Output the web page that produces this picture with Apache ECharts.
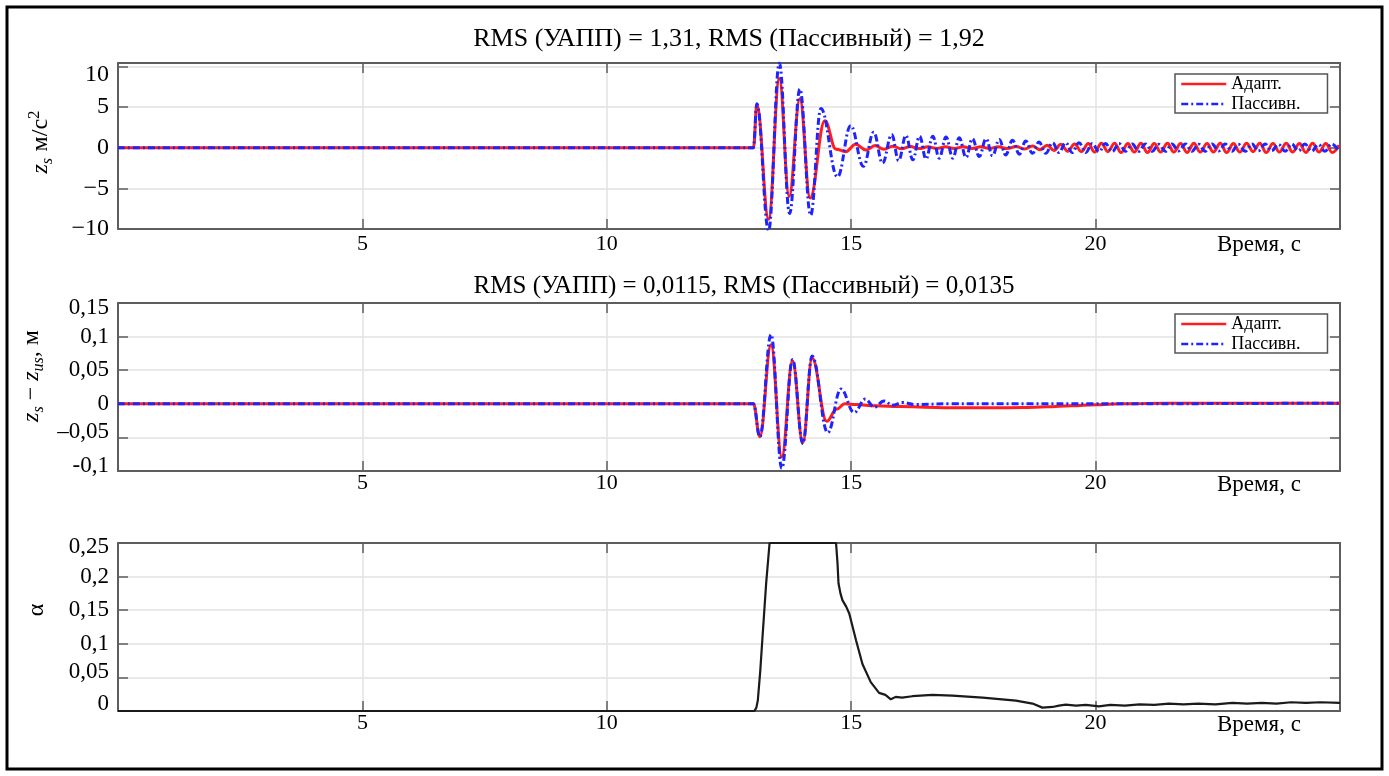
<!DOCTYPE html>
<html><head><meta charset="utf-8">
<script src="https://cdn.jsdelivr.net/npm/echarts@6/dist/echarts.min.js"></script>
<style>html,body{margin:0;padding:0;background:#fff}#c{width:1389px;height:776px}</style>
</head><body><div id="c"></div>
<script>
// ---------- texts ----------
const titleZs = 'RMS (УАПП) = 1,31, RMS (Пассивный) = 1,92';
const titleDef = 'RMS (УАПП) = 0,0115, RMS (Пассивный) = 0,0135';
const seriesNames = ['Адапт.', 'Пассивн.'];
const timeAxisName = 'Время, с';
// ---------- tick labels ----------
const timeTicks = [5, 10, 15, 20];
const zsTicks = [-10, -5, 0, 5, 10];
const zsLabels = ['−10', '−5', '0', '5', '10'];
const defTicks = [-0.1, -0.05, 0, 0.05, 0.1, 0.15];
const defLabels = ['-0,1', '–0,05', '0', '0,05', '0,1', '0,15'];
const alphaTicks = [0, 0.05, 0.1, 0.15, 0.2, 0.25];
const alphaLabels = ['0', '0,05', '0,1', '0,15', '0,2', '0,25'];
// ---------- series: [time s, value] ----------
const zsAdaptive = [[0,0],[13.0,0],[13.07,5.3],[13.31,-8.8],[13.53,8.5],[13.73,-6.0],[13.95,6.0],[14.16,-6.2],[14.46,3.3],[14.69,-0.2],[14.89,-0.5],[15.09,0.4],[15.30,-0.3],[15.49,0.25],[15.67,-0.2],[15.85,0.18],[16.03,-0.15],[16.21,0.13],[16.39,-0.12],[16.57,0.1],[16.75,-0.1],[16.93,0.1],[17.11,-0.1],[17.29,0.1],[17.47,-0.1],[17.65,0.1],[17.83,-0.1],[18.01,0.1],[18.19,-0.12],[18.37,0.14],[18.55,-0.17],[18.71,0.2],[18.86,-0.25],[19.01,0.3],[19.15,-0.35],[19.29,0.4],[19.43,-0.45],[19.57,0.45],[19.71,-0.5],[19.85,0.5],[19.98,-0.55],[20.12,0.55],[20.25,-0.5],[20.39,0.55],[20.52,-0.6],[20.66,0.5],[20.79,-0.55],[20.93,0.55],[21.06,-0.6],[21.20,0.5],[21.33,-0.55],[21.47,0.55],[21.60,-0.55],[21.74,0.5],[21.87,-0.6],[22.01,0.55],[22.14,-0.55],[22.28,0.5],[22.41,-0.55],[22.55,0.55],[22.68,-0.6],[22.82,0.5],[22.95,-0.55],[23.09,0.55],[23.22,-0.5],[23.36,0.55],[23.49,-0.6],[23.63,0.5],[23.76,-0.55],[23.90,0.55],[24.03,-0.55],[24.17,0.5],[24.30,-0.6],[24.44,0.55],[24.57,-0.55],[24.71,0.5],[24.84,-0.6],[24.98,0.3]];
const zsPassive = [[0,0],[13.0,0],[13.07,5.4],[13.31,-10.2],[13.53,10.4],[13.74,-8.1],[13.95,7.2],[14.17,-8.3],[14.38,4.8],[14.72,-3.6],[14.99,2.7],[15.25,-2.3],[15.46,1.9],[15.64,-1.9],[15.83,1.6],[15.97,-1.6],[16.12,1.5],[16.26,-1.5],[16.40,1.4],[16.53,-1.4],[16.67,1.4],[16.80,-1.3],[16.94,1.3],[17.08,-1.3],[17.21,1.2],[17.35,-1.2],[17.48,1.1],[17.62,-1.1],[17.76,1.1],[17.89,-1.0],[18.03,1.0],[18.16,-0.9],[18.30,0.9],[18.44,-0.8],[18.57,0.8],[18.71,-0.7],[18.84,0.7],[18.98,-0.7],[19.12,0.6],[19.25,-0.6],[19.39,0.6],[19.52,-0.6],[19.66,0.6],[19.80,-0.6],[19.93,0.5],[20.07,-0.5],[20.20,0.5],[20.34,-0.5],[20.48,0.5],[20.61,-0.45],[20.75,0.45],[20.88,-0.45],[21.02,0.45],[21.16,-0.45],[21.29,0.4],[21.43,-0.45],[21.56,0.45],[21.70,-0.4],[21.84,0.45],[21.97,-0.45],[22.11,0.4],[22.24,-0.45],[22.38,0.45],[22.52,-0.4],[22.65,0.45],[22.79,-0.45],[22.92,0.4],[23.06,-0.45],[23.20,0.45],[23.33,-0.4],[23.47,0.45],[23.60,-0.4],[23.74,0.4],[23.88,-0.45],[24.01,0.45],[24.15,-0.4],[24.28,0.45],[24.42,-0.45],[24.56,0.4],[24.69,-0.45],[24.83,0.45],[24.96,-0.3]];
const defAdaptive = [[0,0],[13.0,0],[13.13,-0.049],[13.36,0.088],[13.58,-0.079],[13.80,0.064],[14.01,-0.058],[14.20,0.068],[14.50,-0.026],[14.70,-0.008],[14.87,0.0],[15.1,-0.001],[15.5,-0.003],[16.0,-0.004],[16.5,-0.005],[17.0,-0.006],[17.5,-0.006],[18.0,-0.006],[18.5,-0.0055],[19.0,-0.0045],[19.5,-0.003],[20.0,-0.0015],[20.5,0],[21.0,0.0005],[22.0,0.001],[25,0.001]];
const defPassive = [[0,0],[13.0,0],[13.13,-0.049],[13.36,0.103],[13.58,-0.096],[13.80,0.066],[14.01,-0.059],[14.20,0.071],[14.52,-0.043],[14.79,0.022],[15.06,-0.013],[15.29,0.007],[15.47,-0.005],[15.67,0.004],[15.85,-0.002],[16.05,0.002],[16.3,-0.001],[17.0,0],[20.0,0],[25,0.001]];
const alphaGain = [[0,0],[13.02,0],[13.06,0.005],[13.09,0.016],[13.14,0.06],[13.19,0.115],[13.26,0.19],[13.33,0.25],[14.69,0.25],[14.72,0.22],[14.74,0.19],[14.78,0.175],[14.82,0.165],[14.9,0.155],[14.96,0.145],[15.03,0.125],[15.10,0.105],[15.23,0.07],[15.40,0.043],[15.57,0.027],[15.70,0.024],[15.81,0.0174],[15.91,0.021],[16.04,0.020],[16.25,0.022],[16.66,0.024],[17.07,0.023],[17.69,0.020],[18.37,0.0155],[18.71,0.011],[18.91,0.005],[19.12,0.006],[19.25,0.008],[19.39,0.0095],[19.6,0.008],[19.8,0.009],[20.07,0.007],[20.3,0.009],[20.6,0.008],[20.9,0.01],[21.2,0.009],[21.5,0.011],[21.8,0.01],[22.1,0.011],[22.45,0.01],[22.8,0.012],[23.1,0.011],[23.4,0.012],[23.7,0.011],[24.0,0.013],[24.3,0.012],[24.6,0.013],[25,0.012]];

// ---------- layout / style ----------
const FONT = 'Liberation Serif';
const frameColor = '#5e5e5e';
const gridColor = '#e2e2e2';
const RED = '#ff1e1e', BLUE = '#1f24ff';
const grids = [
  {left: 118, right: 49, top: 63, height: 166},
  {left: 118, right: 49, top: 303, height: 168},
  {left: 118, right: 49, top: 543, height: 168}
];
// per-label vertical nudges (px, + = down) to mimic the original label placement
const labelShift = [
  {'10': 8},
  {'0,15': 5, '–0,05': -5, '-0,1': -5},
  {'0': -7, '0,05': -5, '0,25': 4}
];
function lookup(ticks, labels, shifts) {
  return function (v) {
    const i = ticks.findIndex(t => Math.abs(t - v) < 1e-9);
    if (i < 0) return '';
    const s = shifts[labels[i]] || 0;
    if (s > 0) return '{dn' + s + '|' + labels[i] + '}';
    if (s < 0) return '{up' + (-s) + '|' + labels[i] + '}';
    return labels[i];
  };
}
function shiftRich(size) {
  const r = {};
  for (let k = 1; k <= 10; k++) {
    r['dn' + k] = {fontFamily: FONT, fontSize: size, color: '#000', padding: [2 * k, 0, 0, 0]};
    r['up' + k] = {fontFamily: FONT, fontSize: size, color: '#000', padding: [0, 0, 2 * k, 0]};
  }
  return r;
}
const yCfg = [
  {min: -10, max: 10.4, interval: 5, ticks: zsTicks, labels: zsLabels, size: 24,
   name: '{i|z}{sub|s}  {n|м/с}{sup|2}', gap: 62, pad: [0,0,0,8]},
  {min: -0.1, max: 0.15, interval: 0.05, ticks: defTicks, labels: defLabels, size: 23,
   name: '{i|z}{sub|s}{n| − }{i|z}{sub|us}{n|, м}', gap: 66, pad: [0,0,0,22]},
  {min: 0, max: 0.25, interval: 0.05, ticks: alphaTicks, labels: alphaLabels, size: 23,
   name: '{n|α}', gap: 66, pad: [0,0,0,34]}
];
const nameRich = {
  i: {fontFamily: FONT, fontStyle: 'italic', fontSize: 24, lineHeight: 30, color: '#000'},
  n: {fontFamily: FONT, fontSize: 24, lineHeight: 30, color: '#000'},
  sub: {fontFamily: FONT, fontStyle: 'italic', fontSize: 16, verticalAlign: 'bottom', lineHeight: 30, color: '#000'},
  sup: {fontFamily: FONT, fontSize: 17, verticalAlign: 'top', lineHeight: 30, color: '#000'}
};
const xAxes = [], yAxes = [];
grids.forEach((g, gi) => {
  const c = yCfg[gi];
  xAxes.push({
    gridIndex: gi, type: 'value', position: 'bottom', min: 0, max: 25, interval: 5,
    axisLine: {show: true, onZero: false, lineStyle: {color: frameColor, width: 2}},
    axisTick: {show: true, inside: true, length: 10, lineStyle: {color: frameColor, width: 1.5}},
    splitLine: {show: true, lineStyle: {color: gridColor, width: 1.5}},
    axisLabel: {formatter: v => timeTicks.includes(v) ? String(v) : '', fontFamily: FONT, fontSize: 22, color: '#000', margin: gi === 0 ? 4 : 1},
    name: timeAxisName, nameLocation: 'end', nameGap: -123,
    nameTextStyle: {fontFamily: FONT, fontSize: 23, color: '#000', verticalAlign: 'top', padding: [gi === 0 ? 4 : 2, 0, 0, 0]}
  });
  xAxes.push({
    gridIndex: gi, type: 'value', position: 'top', min: 0, max: 25, interval: 5,
    axisLine: {show: true, onZero: false, lineStyle: {color: frameColor, width: 2}},
    axisTick: {show: true, inside: true, length: 10, lineStyle: {color: frameColor, width: 1.5}},
    splitLine: {show: false}, axisLabel: {show: false}
  });
  yAxes.push({
    gridIndex: gi, type: 'value', position: 'left', min: c.min, max: c.max, interval: c.interval,
    axisLine: {show: true, onZero: false, lineStyle: {color: frameColor, width: 2}},
    axisTick: {show: true, inside: true, length: 10, lineStyle: {color: frameColor, width: 1.5}},
    splitLine: {show: true, lineStyle: {color: gridColor, width: 1.5}},
    axisLabel: {formatter: lookup(c.ticks, c.labels, labelShift[gi]), fontFamily: FONT, fontSize: c.size, color: '#000', margin: 9, rich: shiftRich(c.size)},
    name: c.name, nameLocation: 'middle', nameGap: c.gap,
    nameTextStyle: {rich: nameRich, padding: c.pad}
  });
  yAxes.push({
    gridIndex: gi, type: 'value', position: 'right', min: c.min, max: c.max, interval: c.interval,
    axisLine: {show: true, onZero: false, lineStyle: {color: frameColor, width: 2}},
    axisTick: {show: true, inside: true, length: 10, lineStyle: {color: frameColor, width: 1.5}},
    splitLine: {show: false}, axisLabel: {show: false}
  });
});
function lineSeries(name, data, gi, color, dashed, smooth) {
  return {
    name: name, type: 'line', xAxisIndex: gi * 2, yAxisIndex: gi * 2, data: data,
    symbol: 'none', showSymbol: false, smooth: smooth, smoothMonotone: 'x', clip: true,
    lineStyle: {color: color, width: 3, type: dashed ? [7, 3, 2, 3] : 'solid'},
    itemStyle: {color: color}, animation: false
  };
}
const legendBase = {
  data: seriesNames, orient: 'vertical', left: 1175, itemWidth: 45, itemHeight: 14, itemGap: 2,
  padding: [1, 27, 0, 5], borderColor: '#555', borderWidth: 1.5, backgroundColor: '#fff',
  textStyle: {fontFamily: FONT, fontSize: 18, color: '#000'},
  itemStyle: {opacity: 0}, lineStyle: {width: 2.5}, selectedMode: false, itemTextGap: 9
};
const option = {
  animation: false,
  backgroundColor: '#fff',
  title: [
    {text: titleZs, left: 724, top: 21, textAlign: 'center', textStyle: {fontFamily: FONT, fontSize: 26, fontWeight: 'normal', color: '#000'}},
    {text: titleDef, left: 739, top: 269, textAlign: 'center', textStyle: {fontFamily: FONT, fontSize: 25, fontWeight: 'normal', color: '#000'}}
  ],
  legend: [Object.assign({}, legendBase, {top: 74}), Object.assign({}, legendBase, {top: 314})],
  grid: grids,
  xAxis: xAxes,
  yAxis: yAxes,
  series: [
    lineSeries(seriesNames[0], zsAdaptive, 0, RED, false, 0.4),
    lineSeries(seriesNames[1], zsPassive, 0, BLUE, true, 0.4),
    lineSeries(seriesNames[0], defAdaptive, 1, RED, false, 0.4),
    lineSeries(seriesNames[1], defPassive, 1, BLUE, true, 0.4),
    {type: 'line', xAxisIndex: 4, yAxisIndex: 4, data: alphaGain, symbol: 'none', smooth: false, clip: false,
     lineStyle: {color: '#1a1a1a', width: 2.2}, animation: false}
  ],
  graphic: [{type: 'rect', silent: true, z: 100, shape: {x: 7, y: 7, width: 1375, height: 762},
             style: {fill: 'none', stroke: '#000', lineWidth: 3}}]
};
const chart = echarts.init(document.getElementById('c'), null, {renderer: 'canvas'});
chart.setOption(option);
</script></body></html>
